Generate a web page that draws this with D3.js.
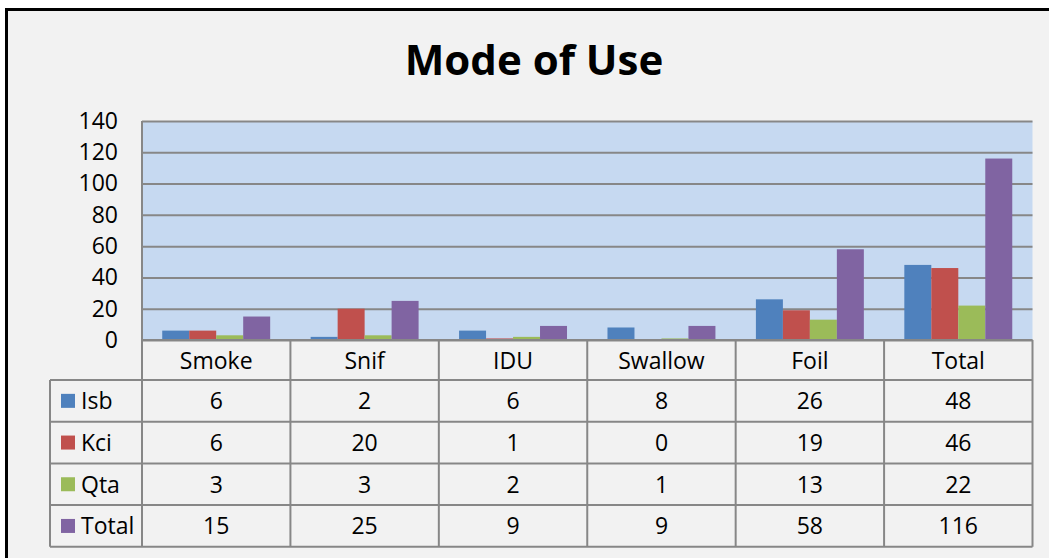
<!DOCTYPE html>
<html>
<head>
<meta charset="utf-8">
<script src="https://cdn.jsdelivr.net/npm/d3@7"></script>
<style>
    body { margin: 0; background: #fff; }
    svg { display: block; font-family: "Open Sans", sans-serif; }
</style>
</head>
<body>
<div id="chart"></div>
<script>
// data
const categories = ['Smoke', 'Snif', 'IDU', 'Swallow', 'Foil', 'Total'];
const seriesNames = ['Isb', 'Kci', 'Qta', 'Total'];
const isb = [6, 2, 6, 8, 26, 48];
const kci = [6, 20, 1, 0, 19, 46];
const qta = [3, 3, 2, 1, 13, 22];
const total = [15, 25, 9, 9, 58, 116];
const yTicks = [0, 20, 40, 60, 80, 100, 120, 140];

const colors = ['#4f81bd', '#c0504d', '#9bbb59', '#8064a2'];
const series = [isb, kci, qta, total].map((values, i) => ({
    name: seriesNames[i],
    color: colors[i],
    values: values
}));

const width = 1049;
const height = 558;
const plot = { left: 142, right: 1032.5, top: 121, bottom: 340 };
const tableLeft = 50;
const headerBottom = 380;
const rowHeight = 41.7;
const grid = '#878787';
const fontSize = '23px';

const svg = d3.select('#chart')
    .append('svg')
    .attr('width', width)
    .attr('height', height);

// frame
svg.append('rect')
    .attr('x', 6.5)
    .attr('y', 9.5)
    .attr('width', 1200)
    .attr('height', 700)
    .attr('fill', '#f2f2f2')
    .attr('stroke', '#000')
    .attr('stroke-width', 3);

svg.append('text')
    .attr('x', 534)
    .attr('y', 75)
    .attr('text-anchor', 'middle')
    .style('font-size', '42px')
    .style('font-weight', 'bold')
    .text('Mode of Use');

const x0 = d3.scaleBand()
    .domain(categories)
    .range([plot.left, plot.right]);

const x1 = d3.scaleBand()
    .domain(seriesNames)
    .range([0, x0.bandwidth()])
    .paddingOuter(0.75);

const y = d3.scaleLinear()
    .domain([0, 140])
    .range([plot.bottom, plot.top]);

svg.append('rect')
    .attr('x', plot.left)
    .attr('y', plot.top)
    .attr('width', plot.right - plot.left)
    .attr('height', plot.bottom - plot.top)
    .attr('fill', '#c6d9f1');

// gridlines
svg.append('g')
    .attr('transform', 'translate(' + plot.left + ',0)')
    .call(d3.axisLeft(y).tickValues(yTicks).tickSize(-(plot.right - plot.left)).tickFormat(''))
    .call(g => g.select('.domain').remove())
    .call(g => g.selectAll('line').attr('stroke', grid).attr('stroke-width', 2));

// y labels
svg.append('g')
    .attr('transform', 'translate(' + plot.left + ',0)')
    .call(d3.axisLeft(y).tickValues(yTicks).tickSize(0).tickPadding(24))
    .call(g => g.select('.domain').remove())
    .call(g => g.selectAll('text')
        .attr('fill', '#000')
        .style('font-size', fontSize)
        .style('font-family', '"Open Sans", sans-serif'));

// bars
const groups = svg.append('g')
    .selectAll('g')
    .data(series)
    .join('g')
    .attr('fill', d => d.color);

groups.selectAll('rect')
    .data(d => d.values.map((v, i) => ({ name: d.name, cat: categories[i], value: v })))
    .join('rect')
    .attr('x', d => x0(d.cat) + x1(d.name))
    .attr('y', d => y(d.value))
    .attr('width', x1.bandwidth())
    .attr('height', d => y(0) - y(d.value));

// data table
const tableBottom = headerBottom + rowHeight * series.length;
const lines = svg.append('g')
    .attr('stroke', grid)
    .attr('stroke-width', 2)
    .attr('fill', 'none');

lines.append('line')
    .attr('x1', plot.left).attr('x2', plot.right)
    .attr('y1', plot.bottom).attr('y2', plot.bottom);

d3.range(series.length + 1).forEach(i => {
    lines.append('line')
        .attr('x1', tableLeft).attr('x2', plot.right)
        .attr('y1', headerBottom + i * rowHeight)
        .attr('y2', headerBottom + i * rowHeight);
});

lines.append('line')
    .attr('x1', tableLeft).attr('x2', tableLeft)
    .attr('y1', headerBottom).attr('y2', tableBottom);

lines.append('line')
    .attr('x1', plot.left).attr('x2', plot.left)
    .attr('y1', plot.top).attr('y2', tableBottom);

categories.forEach(c => {
    lines.append('line')
        .attr('x1', x0(c) + x0.bandwidth()).attr('x2', x0(c) + x0.bandwidth())
        .attr('y1', plot.bottom).attr('y2', tableBottom);
});

svg.append('g')
    .selectAll('text')
    .data(categories)
    .join('text')
    .attr('x', d => x0(d) + x0.bandwidth() / 2)
    .attr('y', (plot.bottom + headerBottom) / 2 + 1)
    .attr('dy', '0.36em')
    .attr('text-anchor', 'middle')
    .style('font-size', fontSize)
    .text(d => d);

const rows = svg.append('g')
    .selectAll('g')
    .data(series)
    .join('g')
    .attr('transform', (d, i) => 'translate(0,' + (headerBottom + i * rowHeight + rowHeight / 2) + ')');

rows.append('rect')
    .attr('x', 61)
    .attr('y', -7)
    .attr('width', 14)
    .attr('height', 14)
    .attr('fill', d => d.color);

rows.append('text')
    .attr('x', 81)
    .attr('dy', '0.36em')
    .style('font-size', fontSize)
    .text(d => d.name);

rows.selectAll('text.val')
    .data(d => d.values)
    .join('text')
    .attr('class', 'val')
    .attr('x', (d, i) => x0(categories[i]) + x0.bandwidth() / 2)
    .attr('dy', '0.36em')
    .attr('text-anchor', 'middle')
    .style('font-size', fontSize)
    .text(d => d);
</script>
</body>
</html>
